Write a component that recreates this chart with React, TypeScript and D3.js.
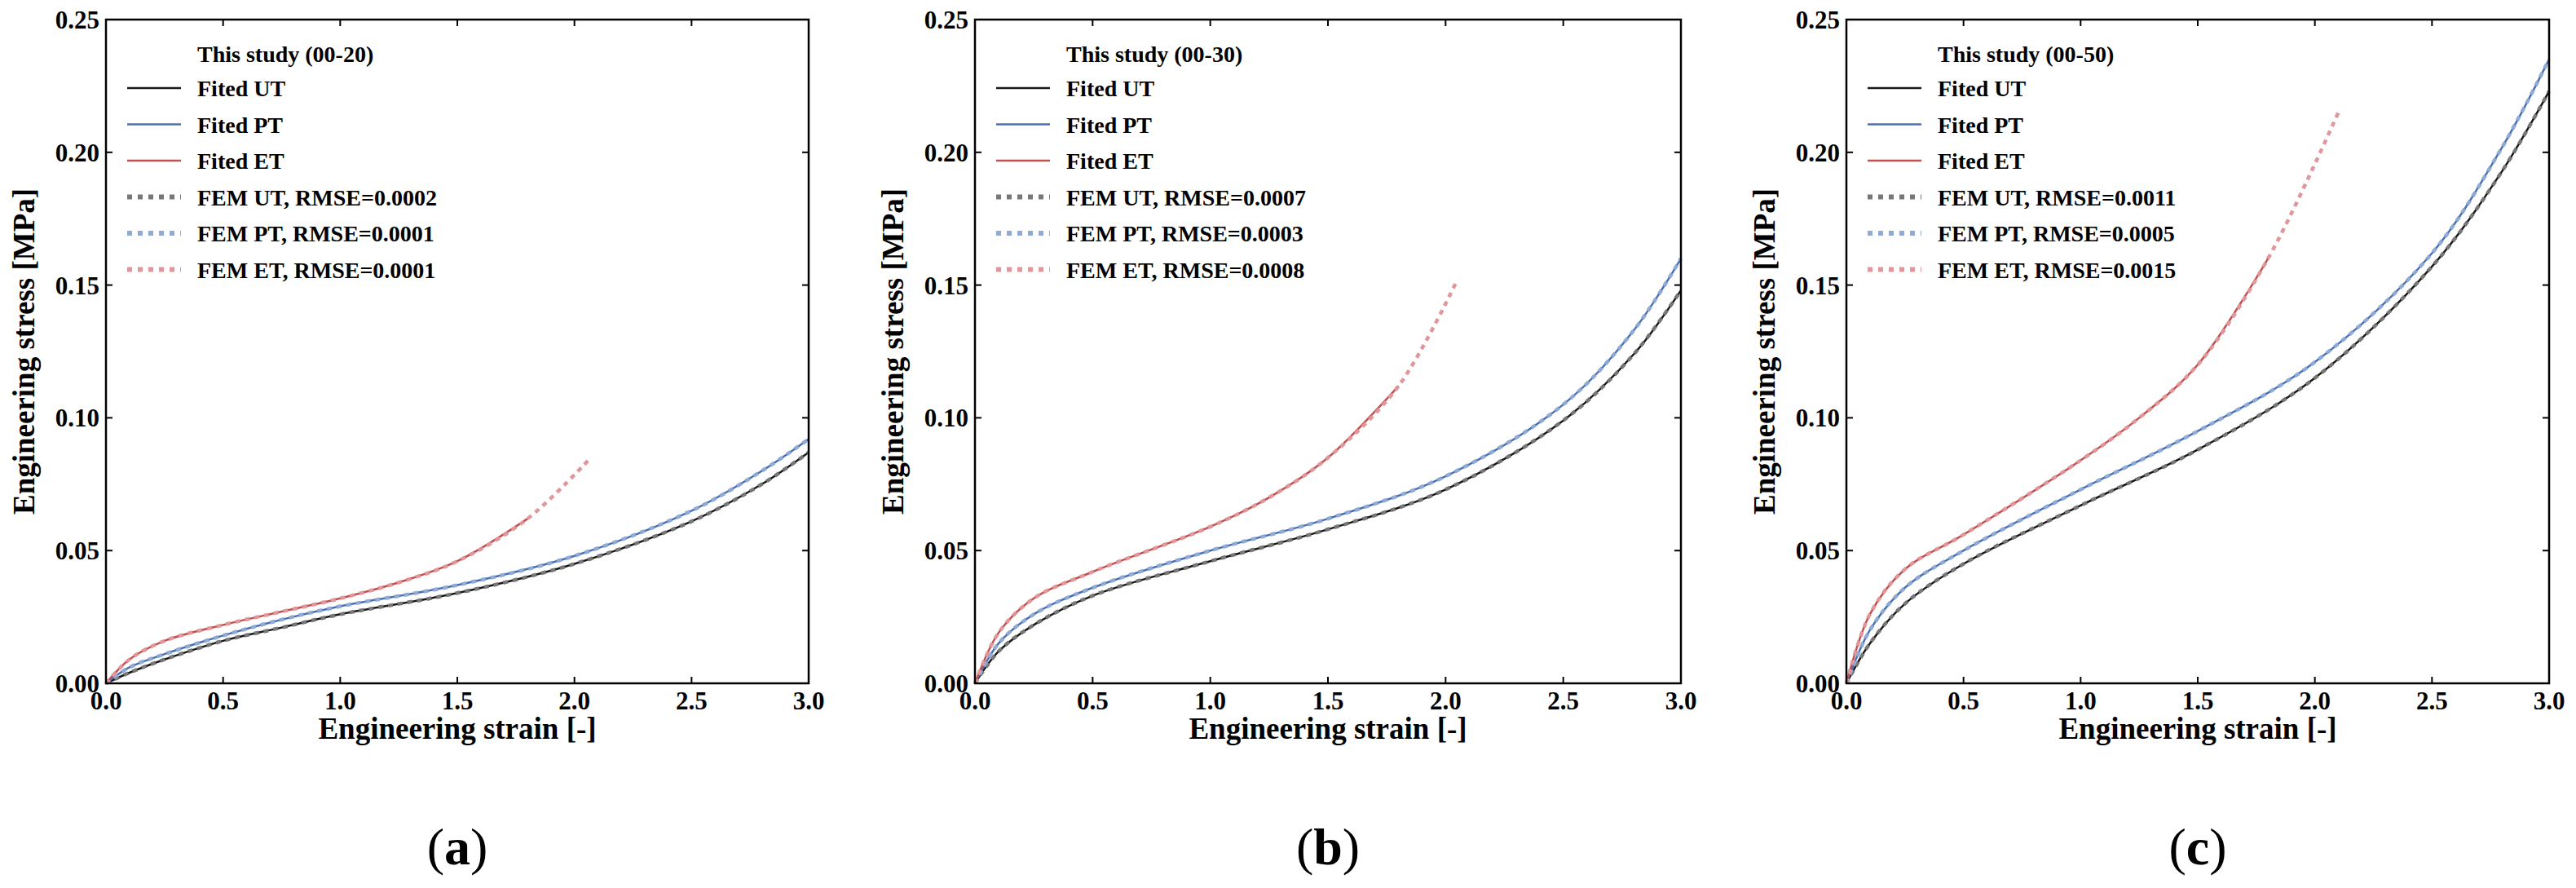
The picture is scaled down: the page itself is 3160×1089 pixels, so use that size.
import React from "react";
import * as d3 from "d3";

type P = [number, number];
const utA: P[] = [[0,0],[0.1,0.004],[0.25,0.009],[0.5,0.016],[0.75,0.021],[1,0.026],[1.5,0.034],[2,0.045],[2.5,0.061],[2.8,0.075],[3,0.087]];
const ptA: P[] = [[0,0],[0.1,0.006],[0.25,0.011],[0.5,0.018],[0.75,0.024],[1,0.029],[1.5,0.037],[2,0.048],[2.5,0.065],[2.8,0.08],[3,0.092]];
const etA: P[] = [[0,0],[0.1,0.009],[0.25,0.016],[0.5,0.022],[0.75,0.027],[1,0.032],[1.25,0.038],[1.5,0.046],[1.8,0.062]];
const etFemA: P[] = [[0,0],[0.1,0.009],[0.25,0.016],[0.5,0.022],[0.75,0.027],[1,0.032],[1.25,0.038],[1.5,0.046],[1.8,0.062],[2.07,0.085]];

const utB: P[] = [[0,0],[0.1,0.012],[0.25,0.022],[0.5,0.033],[1,0.046],[1.5,0.058],[2,0.073],[2.5,0.099],[2.8,0.124],[3,0.148]];
const ptB: P[] = [[0,0],[0.1,0.015],[0.25,0.026],[0.5,0.036],[1,0.05],[1.5,0.062],[2,0.078],[2.5,0.105],[2.8,0.133],[3,0.16]];
const etB: P[] = [[0,0],[0.1,0.019],[0.25,0.032],[0.5,0.042],[1,0.059],[1.25,0.07],[1.5,0.085],[1.8,0.112]];
const etFemB: P[] = [[0,0],[0.1,0.019],[0.25,0.032],[0.5,0.042],[1,0.059],[1.25,0.07],[1.5,0.085],[1.8,0.112],[2.05,0.152]];

const utC: P[] = [[0,0],[0.1,0.015],[0.25,0.03],[0.5,0.045],[1,0.067],[1.5,0.088],[2,0.115],[2.5,0.157],[2.8,0.193],[3,0.223]];
const ptC: P[] = [[0,0],[0.1,0.02],[0.25,0.036],[0.5,0.05],[1,0.073],[1.5,0.095],[2,0.121],[2.5,0.162],[2.8,0.202],[3,0.235]];
const etC: P[] = [[0,0],[0.1,0.026],[0.25,0.043],[0.5,0.056],[1,0.084],[1.25,0.1],[1.5,0.12],[1.8,0.16]];
const etFemC: P[] = [[0,0],[0.1,0.026],[0.25,0.043],[0.5,0.056],[1,0.084],[1.25,0.1],[1.5,0.12],[1.8,0.16],[2.1,0.215]];

const xTicks = [0, 0.5, 1, 1.5, 2, 2.5, 3];
const yTicks = [0, 0.05, 0.1, 0.15, 0.2, 0.25];

const panels = [
  { left: 130, right: 992, tag: "a", study: "This study (00-20)", rmse: ["0.0002", "0.0001", "0.0001"], ut: utA, pt: ptA, et: etA, etF: etFemA },
  { left: 1196, right: 2062, tag: "b", study: "This study (00-30)", rmse: ["0.0007", "0.0003", "0.0008"], ut: utB, pt: ptB, et: etB, etF: etFemB },
  { left: 2265, right: 3127, tag: "c", study: "This study (00-50)", rmse: ["0.0011", "0.0005", "0.0015"], ut: utC, pt: ptC, et: etC, etF: etFemC },
];

const TOP = 24, BOTTOM = 838;
const font = "'Liberation Serif', 'Times New Roman', serif";
const cUT = "#1a1a1a", cPT = "#4a70b8", cET = "#c4504f";
const fUT = "#777777", fPT = "#8faad3", fET = "#e0979b";

function Panel({ p }: { p: typeof panels[0] }) {
  const x = d3.scaleLinear().domain([0, 3]).range([p.left, p.right]);
  const y = d3.scaleLinear().domain([0, 0.25]).range([BOTTOM, TOP]);
  const line = d3.line<P>().x(d => x(d[0])).y(d => y(d[1])).curve(d3.curveCatmullRom.alpha(0.5));
  const legend = [
    { t: "Fited UT", c: cUT, dash: false },
    { t: "Fited PT", c: cPT, dash: false },
    { t: "Fited ET", c: cET, dash: false },
    { t: `FEM UT, RMSE=${p.rmse[0]}`, c: fUT, dash: true },
    { t: `FEM PT, RMSE=${p.rmse[1]}`, c: fPT, dash: true },
    { t: `FEM ET, RMSE=${p.rmse[2]}`, c: fET, dash: true },
  ];
  const lx = p.left + 26;
  const cx = (p.left + p.right) / 2;
  const cy = (TOP + BOTTOM) / 2;
  return (
    <g fontFamily={font} fontWeight="bold">
      <path d={line(p.ut)!} fill="none" stroke={cUT} strokeWidth={2.5} />
      <path d={line(p.ut)!} fill="none" stroke={fUT} strokeWidth={4.5} strokeDasharray="6 6" />
      <path d={line(p.pt)!} fill="none" stroke={cPT} strokeWidth={2.5} />
      <path d={line(p.pt)!} fill="none" stroke={fPT} strokeWidth={4.5} strokeDasharray="6 6" />
      <path d={line(p.et)!} fill="none" stroke={cET} strokeWidth={2.5} />
      <path d={line(p.etF)!} fill="none" stroke={fET} strokeWidth={4.5} strokeDasharray="6 6" />
      <rect x={p.left} y={TOP} width={p.right - p.left} height={BOTTOM - TOP} fill="none" stroke="#000" strokeWidth={2.5} />
      {xTicks.map(t => (
        <g key={"x" + t}>
          <line x1={x(t)} x2={x(t)} y1={BOTTOM} y2={BOTTOM - 8} stroke="#000" strokeWidth={2} />
          <line x1={x(t)} x2={x(t)} y1={TOP} y2={TOP + 8} stroke="#000" strokeWidth={2} />
          <text x={x(t)} y={BOTTOM + 32} fontSize={31} textAnchor="middle">{t.toFixed(1)}</text>
        </g>
      ))}
      {yTicks.map(t => (
        <g key={"y" + t}>
          <line x1={p.left} x2={p.left + 8} y1={y(t)} y2={y(t)} stroke="#000" strokeWidth={2} />
          <line x1={p.right} x2={p.right - 8} y1={y(t)} y2={y(t)} stroke="#000" strokeWidth={2} />
          <text x={p.left - 8} y={y(t) + 11} fontSize={31} textAnchor="end">{t.toFixed(2)}</text>
        </g>
      ))}
      <text x={cx} y={BOTTOM + 68} fontSize={37} textAnchor="middle">Engineering strain [-]</text>
      <text transform={`translate(${p.left - 88},${cy}) rotate(-90)`} fontSize={37} textAnchor="middle">Engineering stress [MPa]</text>
      <text x={lx + 86} y={TOP + 52} fontSize={28}>{p.study}</text>
      {legend.map((l, i) => {
        const yy = TOP + 84 + i * 44.5;
        return (
          <g key={i}>
            <line x1={lx} x2={lx + 66} y1={yy} y2={yy} stroke={l.c} strokeWidth={l.dash ? 6 : 2.5} strokeDasharray={l.dash ? "6 7" : undefined} />
            <text x={lx + 86} y={yy + 10} fontSize={28}>{l.t}</text>
          </g>
        );
      })}
      <text x={cx} y={1060} fontSize={64} fontWeight="normal" textAnchor="middle">(<tspan fontWeight="bold">{p.tag}</tspan>)</text>
    </g>
  );
}

export default function App() {
  return (
    <svg width={3160} height={1089} style={{ display: "block", position: "absolute", left: 0, top: 0, background: "#fff" }}>
      <rect width={3160} height={1089} fill="#fff" />
      {panels.map(p => <Panel key={p.tag} p={p} />)}
    </svg>
  );
}
